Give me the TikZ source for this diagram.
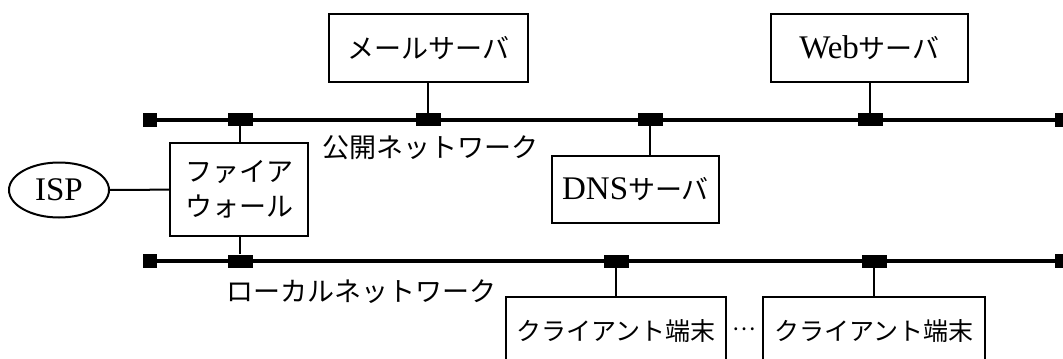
\documentclass[tikz,border=0pt]{standalone}
\usepackage{fontspec}
\setmainfont{Liberation Serif}
\newfontfamily\jpfont{Noto Sans CJK JP}
\newcommand{\jp}{\jpfont\fontsize{13.5}{17.5}\selectfont}
\newcommand{\jpsmall}{\jpfont\fontsize{12.5}{17.5}\selectfont}
\usetikzlibrary{shapes.geometric}

\begin{document}
\begin{tikzpicture}[x=0.5pt,y=-0.5pt]
    \tikzstyle{every node} = [font=\fontsize{16.5}{17.5}\selectfont]
    \tikzstyle{block} = [draw, rectangle, line width=1pt, inner sep=0pt]
    \tikzstyle{tap} = [fill=black, rectangle, inner sep=0pt, minimum width=12.5pt, minimum height=6.5pt]
    \tikzstyle{busEnd} = [fill=black, rectangle, inner sep=0pt, minimum size=7pt]
    \tikzstyle{bus} = [line width=2pt]
    \tikzstyle{link} = [line width=1pt]
    \useasboundingbox (0,0) rectangle (1063,358);

    % place nodes
    \node[draw, ellipse, line width=1pt, inner sep=0pt, minimum width=50pt, minimum height=27.5pt](ispNode) at (59,190){ISP};
    \node[block, minimum width=69pt, minimum height=46.5pt, align=center](fireWall) at (239,189.5){\jp ファイア\\\jp ウォール};
    \node[block, minimum width=99.5pt, minimum height=34pt](mailServer) at (428.5,48){\jp メールサーバ};
    \node[block, minimum width=98.5pt, minimum height=34pt](webServer) at (869.5,48){Web{\jp サーバ}};
    \node[block, minimum width=83.5pt, minimum height=33.5pt](dnsServer) at (635.5,189.5){DNS{\jp サーバ}};
    \node[block, minimum width=110pt, minimum height=34pt](clientA) at (616,331){\jpsmall クライアント端末};
    \node[block, minimum width=111pt, minimum height=34pt](clientB) at (874,331){\jpsmall クライアント端末};
    \node[inner sep=0pt](clientDots) at (744.5,329){\jpfont\fontsize{11}{12}\selectfont ⋯};

    % networks
    \node[busEnd](pubLeft) at (150,119.5){};
    \node[busEnd](pubRight) at (1062,119.5){};
    \node[busEnd](locLeft) at (150,261){};
    \node[busEnd](locRight) at (1062,261){};
    \draw[bus] (pubLeft) -- (pubRight);
    \draw[bus] (locLeft) -- (locRight);
    \node[tap](fwPubTap) at (240,119.5){};
    \node[tap](mailTap) at (428,119.5){};
    \node[tap](dnsTap) at (650,119.5){};
    \node[tap](webTap) at (870,119.5){};
    \node[tap](fwLocTap) at (240,261){};
    \node[tap](clientATap) at (616,261){};
    \node[tap](clientBTap) at (874,261){};
    \node[anchor=west, inner sep=0pt](pubLabel) at (322,148){\jp 公開ネットワーク};
    \node[anchor=west, inner sep=0pt](locLabel) at (226,292){\jp ローカルネットワーク};

    % Connections
    \draw[link] (ispNode) -- (fireWall);
    \draw[link] (fwPubTap) -- (fwPubTap |- fireWall.north);
    \draw[link] (fwLocTap) -- (fwLocTap |- fireWall.south);
    \draw[link] (mailTap) -- (mailTap |- mailServer.south);
    \draw[link] (webTap) -- (webTap |- webServer.south);
    \draw[link] (dnsTap) -- (dnsTap |- dnsServer.north);
    \draw[link] (clientATap) -- (clientATap |- clientA.north);
    \draw[link] (clientBTap) -- (clientBTap |- clientB.north);
\end{tikzpicture}
\end{document}
